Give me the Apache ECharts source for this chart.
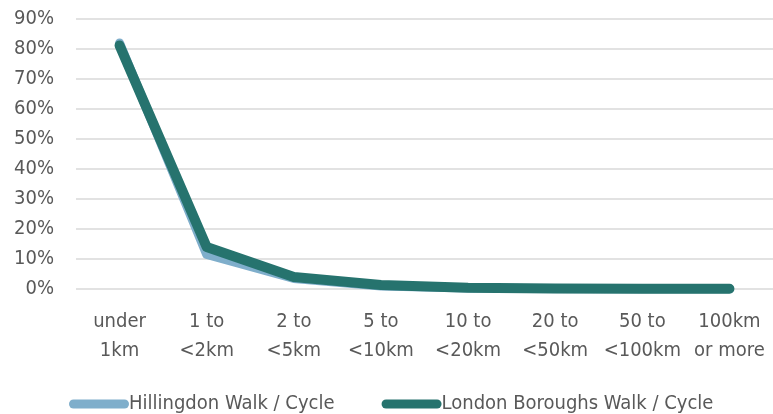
<!DOCTYPE html>
<html>
<head>
<meta charset="utf-8">
<script src="https://cdn.jsdelivr.net/npm/echarts@6/dist/echarts.min.js"></script>
<style>
html, body { margin: 0; padding: 0; background: #fff; }
#chart { width: 773px; height: 414px; }
</style>
</head>
<body>
<div id="chart"></div>
<script>
var categories = ['under\n1km', '1 to\n<2km', '2 to\n<5km', '5 to\n<10km', '10 to\n<20km', '20 to\n<50km', '50 to\n<100km', '100km\nor more'];
var hillingdon = [82.0, 11.5, 3.5, 1.0, 0.3, 0.1, 0.0, 0.0];
var london = [81.2, 14.0, 4.0, 1.3, 0.4, 0.2, 0.1, 0.1];
var yTicks = [0, 10, 20, 30, 40, 50, 60, 70, 80, 90];

var font = '"DejaVu Sans Condensed", sans-serif';
// pill shaped legend icon, like the Excel line key
var pill = 'path://M4.5,0 L55.5,0 A4.5,4.5 0 0 1 55.5,9 L4.5,9 A4.5,4.5 0 0 1 4.5,0 Z';
var chart = echarts.init(document.getElementById('chart'));
chart.setOption({
    animation: false,
    grid: { left: 76, right: -4, top: 19, height: 270 },
    legend: {
        top: 389,
        left: 64,
        itemGap: 47,
        itemWidth: 60,
        itemHeight: 9,
        icon: pill,
        textStyle: { fontFamily: font, fontSize: 20, color: '#595959', padding: [0, 0, 0, -5] },
        data: ['Hillingdon Walk / Cycle', 'London Boroughs Walk / Cycle']
    },
    xAxis: {
        type: 'category',
        data: categories,
        axisLine: { show: false },
        axisTick: { show: false },
        axisLabel: { interval: 0, fontFamily: font, fontSize: 20, color: '#595959', lineHeight: 29, margin: 18 }
    },
    yAxis: {
        type: 'value',
        min: yTicks[0],
        max: yTicks[yTicks.length - 1],
        interval: 10,
        axisLabel: { fontFamily: font, fontSize: 20, color: '#595959', formatter: '{value}%', margin: 22 },
        splitLine: { lineStyle: { color: '#d9d9d9', width: 1.5 } }
    },
    series: [
        {
            name: 'Hillingdon Walk / Cycle',
            type: 'line',
            data: hillingdon,
            symbol: 'none',
            itemStyle: { color: '#7FAECB' },
            lineStyle: { color: '#7FAECB', width: 9, cap: 'round', join: 'round' }
        },
        {
            name: 'London Boroughs Walk / Cycle',
            type: 'line',
            data: london,
            symbol: 'none',
            itemStyle: { color: '#26736E' },
            lineStyle: { color: '#26736E', width: 10, cap: 'round', join: 'round' }
        }
    ]
});
</script>
</body>
</html>
